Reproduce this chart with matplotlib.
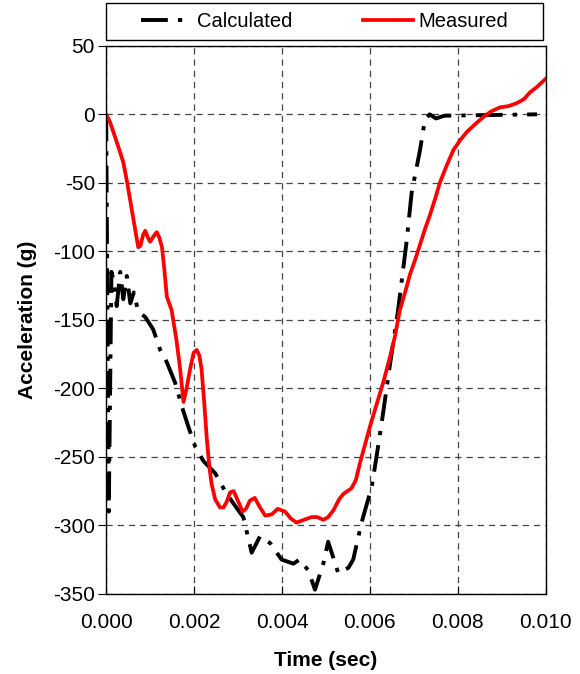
import numpy as np
import matplotlib as mpl
import matplotlib.pyplot as plt
from matplotlib.patches import Rectangle
from matplotlib.ticker import FormatStrFormatter

mpl.use('Agg')

# Arial-like look, plain hyphen minus signs
mpl.rcParams['font.family'] = 'Liberation Sans'
mpl.rcParams['axes.unicode_minus'] = False

# Measured acceleration (red)
meas_t = [0.0, 0.00008, 0.000166, 0.00028, 0.00039, 0.00048, 0.00058,
          0.00066, 0.00073, 0.00078, 0.00084, 0.00089, 0.00095, 0.0010,
          0.00108, 0.00115, 0.00121, 0.00127, 0.00132, 0.00138, 0.00149,
          0.0016, 0.00168, 0.00176, 0.00183, 0.00191, 0.00199, 0.00206,
          0.00212, 0.00217, 0.00223, 0.00229, 0.00235, 0.0024, 0.00248,
          0.00259, 0.00267, 0.00274, 0.00282, 0.0029, 0.00301, 0.0031,
          0.00318, 0.00327, 0.00338, 0.0035, 0.00362, 0.00377, 0.0039,
          0.00407, 0.0042, 0.00433, 0.0045, 0.00467, 0.0048, 0.00494,
          0.00505, 0.00517, 0.0053, 0.0054, 0.00558, 0.00568, 0.00577,
          0.0060, 0.00615, 0.0063, 0.00645, 0.00657, 0.00668, 0.0068,
          0.00691, 0.00703, 0.00714, 0.00725, 0.00736, 0.00748, 0.00759,
          0.00775, 0.0079, 0.00805, 0.0082, 0.0084, 0.00858, 0.00875,
          0.00895, 0.00915, 0.00933, 0.0095, 0.00964, 0.0098, 0.01]
meas_g = [0, -5, -13, -24, -35, -50, -69, -84, -97, -96, -88, -85, -90, -93,
          -89, -86, -90, -97, -112, -133, -143, -165, -185, -210, -200, -186,
          -174, -172, -176, -186, -210, -237, -258, -270, -281, -287, -287,
          -283, -276, -275, -283, -290, -288, -282, -280, -287, -293, -292,
          -288, -290, -295, -298, -296, -294, -294, -296, -294, -289, -281,
          -277, -273, -267, -255, -228, -212, -196, -178, -162, -143, -130,
          -117, -106, -95, -84, -74, -62, -50, -37, -26, -19, -13, -7, -2, 2,
          5, 6, 8, 11, 16, 20, 26]

# Calculated acceleration (black dash-dot)
calc_t = [0.0, 0.00006, 0.00012, 0.000166, 0.00024, 0.00032, 0.00039,
          0.00047, 0.00055, 0.00063, 0.00073, 0.00089, 0.00107, 0.00123,
          0.00138, 0.00157, 0.00172, 0.00187, 0.00202, 0.00221, 0.00248,
          0.00274, 0.00305, 0.00312, 0.00331, 0.0035, 0.00373, 0.00399,
          0.00426, 0.0044, 0.0046, 0.00475, 0.00494, 0.00505, 0.00528,
          0.00551, 0.00562, 0.00581, 0.00604, 0.00615, 0.0063, 0.00645,
          0.00664, 0.00683, 0.00695, 0.00714, 0.00725, 0.00736, 0.0075,
          0.0077, 0.0098]
calc_g = [0, -290, -115, -121, -140, -115, -135, -118, -138, -130, -144,
          -148, -157, -172, -181, -196, -213, -228, -242, -253, -262, -277,
          -291, -294, -320, -308, -313, -325, -328, -325, -333, -347, -328,
          -312, -335, -331, -325, -298, -272, -250, -218, -184, -143, -94,
          -57, -26, -4, 0, -3, -1, 0]

x_ticks = [0.000, 0.002, 0.004, 0.006, 0.008, 0.010]
y_ticks = [-350, -300, -250, -200, -150, -100, -50, 0, 50]

fig = plt.figure(figsize=(5.8, 6.74), dpi=100)
ax = fig.add_axes([0.183, 0.119, 0.758, 0.813])

# Lines
calc_line, = ax.plot(calc_t, calc_g, color='black', lw=2.8,
                     dashes=(6.9, 2.6, 1.1, 2.6), label='Calculated')
meas_line, = ax.plot(meas_t, meas_g, color='#FF0000', lw=2.7,
                     solid_joinstyle='round', label='Measured')

# Axes limits & ticks
ax.set_xlim(0, 0.010)
ax.set_ylim(-350, 50)
ax.set_xticks(x_ticks)
ax.set_yticks(y_ticks)
ax.xaxis.set_major_formatter(FormatStrFormatter('%.3f'))
ax.tick_params(axis='x', direction='in', length=6, labelsize=15, pad=14)
ax.tick_params(axis='y', direction='out', length=6, labelsize=15, pad=2)

# Dashed grid
ax.grid(True, color='#444444', linestyle=(0, (5, 4)), lw=0.9)
ax.set_axisbelow(True)

for spine in ['top', 'bottom', 'left', 'right']:
    ax.spines[spine].set_color('black')
    ax.spines[spine].set_linewidth(1.0)

# Axis labels
ax.set_xlabel('Time (sec)', fontsize=15, fontweight='bold')
ax.set_ylabel('Acceleration (g)', fontsize=15, fontweight='bold')
ax.xaxis.set_label_coords(0.5, -0.104)
ax.yaxis.set_label_coords(-0.158, 0.5)

# Legend box above the plot area
box = (0.1828, 0.9407, 0.7534, 0.0549)
fig.patches.append(Rectangle(box[:2], box[2], box[3], transform=fig.transFigure,
                             facecolor='white', edgecolor='black', lw=1.0))
leg = fig.legend(handles=[calc_line, meas_line], ncol=2,
                 loc='center', bbox_to_anchor=box,
                 fontsize=14.5, frameon=False, handlelength=2.5,
                 columnspacing=3.5, handletextpad=0.25, borderaxespad=0)

fig.savefig('out.png', dpi=100)
